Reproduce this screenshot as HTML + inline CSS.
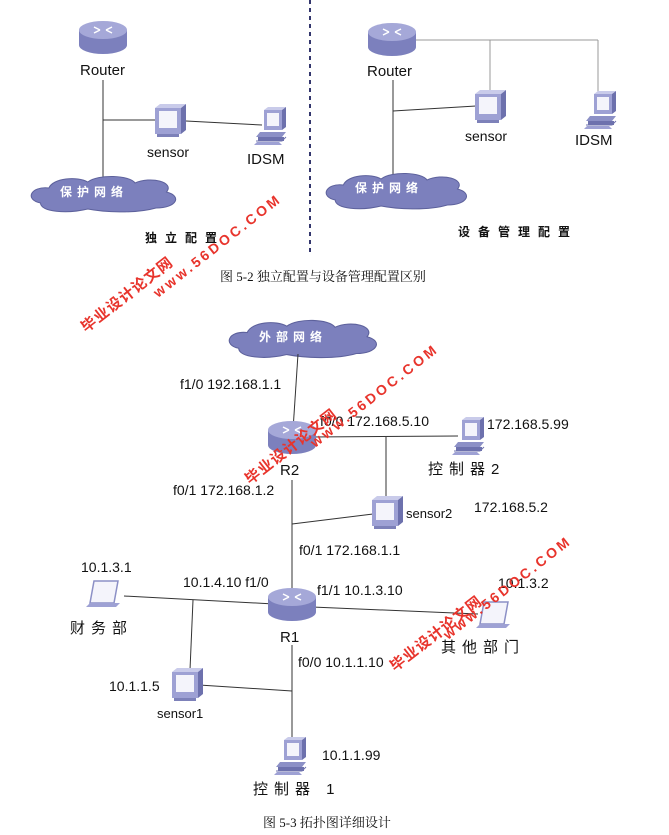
<!DOCTYPE html>
<html><head><meta charset="utf-8"><style>
html,body{margin:0;padding:0;background:#fff}
svg{display:block}
text{font-family:"Liberation Sans","Noto Sans CJK SC",sans-serif;fill:#111}
.cj{font-family:"Liberation Serif","Noto Serif CJK SC",serif}
.wm{fill:#e8342c;font-weight:bold;font-family:"Liberation Sans","Noto Sans CJK SC",sans-serif}
</style></head><body>
<svg width="669" height="835" viewBox="0 0 669 835" xmlns="http://www.w3.org/2000/svg">
<defs>
<g id="router">
<path d="M-24,0 v15 a24,9 0 0 0 48,0 v-15 z" fill="#7c80bd"/>
<ellipse cx="0" cy="0" rx="24" ry="9" fill="#a5a8d8"/>
<path d="M-9,-3 l6,3 M9,-3 l-6,3 M-9,3 l6,-3 M9,3 l-6,-3" stroke="#fff" stroke-width="1.5"/>
</g>
<g id="sensor">
<path d="M0,4 l5,-4 h26 l-5,4 z" fill="#c9cbea"/>
<path d="M26,4 l5,-4 v26 l-5,4 z" fill="#6d71ad"/>
<rect x="0" y="4" width="26" height="26" fill="#9ea1d4"/>
<rect x="4" y="7" width="18" height="17" fill="#f4f4fb"/>
<rect x="2" y="30" width="22" height="3" fill="#7d81b9"/>
</g>
<g id="pc">
<path d="M6,3 l4,-3 h18 l-4,3 z" fill="#c9cbea"/>
<path d="M24,3 l4,-3 v20 l-4,3 z" fill="#6d71ad"/>
<rect x="6" y="3" width="18" height="20" fill="#9ea1d4"/>
<rect x="9" y="6" width="12" height="13" fill="#f4f4fb"/>
<path d="M2,25 h26 l-4,5 h-26 z" fill="#8c90c6"/>
<rect x="0" y="30" width="26" height="4" fill="#6d71ad"/>
<path d="M-2,34 h26 l4,-4" fill="none" stroke="#6d71ad"/>
<path d="M-4,38 h28 l-3,-3 h-22 z" fill="#9ea1d4"/>
</g>
<g id="laptop">
<path d="M8,0 h24 l-4,22 h-24 z" fill="#f4f4fb" stroke="#8c90c6" stroke-width="1.5"/>
<path d="M0,26 h30 l4,-4 h-30 z" fill="#9ea1d4"/>
</g>
<g id="cloud">
<path d="M10,25 C-5,22 0,8 18,10 C22,0 45,-2 55,4 C65,-4 95,-3 100,5 C115,-2 138,4 130,14 C145,18 140,30 120,30 C100,36 70,34 55,31 C35,36 10,34 10,25 z" fill="#7c80bd" stroke="#5d619c" stroke-width="1"/>
</g>
</defs>

<line x1="310" y1="0" x2="310" y2="255" stroke="#33366d" stroke-width="2" stroke-dasharray="4,4"/>
<line x1="103" y1="80" x2="103" y2="180" stroke="#333" stroke-width="1"/>
<line x1="103" y1="120" x2="156" y2="120" stroke="#333"/>
<line x1="186" y1="121" x2="262" y2="125" stroke="#333"/>
<use href="#router" x="103" y="30"/>
<text x="80" y="75" font-size="15">Router</text>
<use href="#sensor" x="155" y="104"/>
<text x="147" y="157" font-size="14">sensor</text>
<use href="#pc" x="258" y="107"/>
<text x="247" y="164" font-size="15">IDSM</text>
<g transform="translate(30,178) scale(1.05,1)"><use href="#cloud"/></g>
<text x="60" y="196" font-size="12" font-weight="bold" style="fill:#fff" letter-spacing="5">保护网络</text>
<text x="145" y="242" font-size="12" font-weight="bold" letter-spacing="8">独立配置</text>

<line x1="412" y1="40" x2="598" y2="40" stroke="#999"/>
<line x1="490" y1="40" x2="490" y2="92" stroke="#999"/>
<line x1="598" y1="40" x2="598" y2="96" stroke="#999"/>
<line x1="393" y1="80" x2="393" y2="178" stroke="#333"/>
<line x1="393" y1="111" x2="476" y2="106" stroke="#333"/>
<use href="#router" x="392" y="32"/>
<text x="367" y="76" font-size="15">Router</text>
<use href="#sensor" x="475" y="90"/>
<text x="465" y="141" font-size="14">sensor</text>
<use href="#pc" x="588" y="91"/>
<text x="575" y="145" font-size="15">IDSM</text>
<g transform="translate(325,175) scale(1.02,1)"><use href="#cloud"/></g>
<text x="355" y="192" font-size="12" font-weight="bold" style="fill:#fff" letter-spacing="5">保护网络</text>
<text x="458" y="236" font-size="12" font-weight="bold" letter-spacing="8">设备管理配置</text>
<text x="220" y="281" font-size="13" class="cj">图 5-2  独立配置与设备管理配置区别</text>

<g transform="translate(228,322) scale(1.07,1.05)"><use href="#cloud"/></g>
<text x="259" y="341" font-size="12" font-weight="bold" style="fill:#fff" letter-spacing="5">外部网络</text>
<line x1="298" y1="354" x2="293" y2="430" stroke="#333"/>
<line x1="310" y1="437" x2="458" y2="436" stroke="#333"/>
<line x1="386" y1="437" x2="386" y2="500" stroke="#333"/>
<line x1="292" y1="480" x2="292" y2="592" stroke="#333"/>
<line x1="292" y1="524" x2="373" y2="514" stroke="#333"/>
<line x1="124" y1="596" x2="274" y2="604" stroke="#333"/>
<line x1="193" y1="600" x2="190" y2="670" stroke="#333"/>
<line x1="312" y1="607" x2="478" y2="614" stroke="#333"/>
<line x1="292" y1="645" x2="292" y2="740" stroke="#333"/>
<line x1="199" y1="685" x2="292" y2="691" stroke="#333"/>
<use href="#router" x="292" y="430"/>
<text x="280" y="475" font-size="15">R2</text>
<text x="180" y="389" font-size="14">f1/0 192.168.1.1</text>
<text x="320" y="426" font-size="14">f0/0 172.168.5.10</text>
<use href="#pc" x="456" y="417"/>
<text x="487" y="429" font-size="14">172.168.5.99</text>
<text x="428" y="474" font-size="15" letter-spacing="6">控制器2</text>
<use href="#sensor" x="372" y="496"/>
<text x="406" y="518" font-size="13">sensor2</text>
<text x="474" y="512" font-size="14">172.168.5.2</text>
<text x="173" y="495" font-size="14">f0/1  172.168.1.2</text>
<text x="299" y="555" font-size="14">f0/1 172.168.1.1</text>
<use href="#router" x="292" y="597"/>
<text x="280" y="642" font-size="15">R1</text>
<text x="81" y="572" font-size="14">10.1.3.1</text>
<use href="#laptop" x="86" y="581"/>
<text x="70" y="633" font-size="15" letter-spacing="6">财务部</text>
<text x="183" y="587" font-size="14">10.1.4.10 f1/0</text>
<text x="317" y="595" font-size="14">f1/1 10.1.3.10</text>
<text x="498" y="588" font-size="14">10.1.3.2</text>
<use href="#laptop" x="476" y="602"/>
<text x="441" y="652" font-size="15" letter-spacing="6">其他部门</text>
<text x="298" y="667" font-size="14">f0/0 10.1.1.10</text>
<use href="#sensor" x="172" y="668"/>
<text x="109" y="691" font-size="14">10.1.1.5</text>
<text x="157" y="718" font-size="13">sensor1</text>
<use href="#pc" x="278" y="737"/>
<text x="322" y="760" font-size="14">10.1.1.99</text>
<text x="253" y="794" font-size="15" letter-spacing="6">控制器 1</text>
<text x="263" y="827" font-size="13" class="cj">图 5-3  拓扑图详细设计</text>

<g transform="translate(86,333) rotate(-38)"><text class="wm" font-size="15" letter-spacing="1">毕业设计论文网</text></g>
<g transform="translate(158,298) rotate(-38)"><text class="wm" font-size="14" letter-spacing="3">www.56DOC.COM</text></g>
<g transform="translate(250,485) rotate(-38)"><text class="wm" font-size="15" letter-spacing="1">毕业设计论文网</text></g>
<g transform="translate(315,448) rotate(-38)"><text class="wm" font-size="14" letter-spacing="3">www.56DOC.COM</text></g>
<g transform="translate(395,672) rotate(-38)"><text class="wm" font-size="15" letter-spacing="1">毕业设计论文网</text></g>
<g transform="translate(448,640) rotate(-38)"><text class="wm" font-size="14" letter-spacing="3">www.56DOC.COM</text></g>
</svg>
</body></html>
